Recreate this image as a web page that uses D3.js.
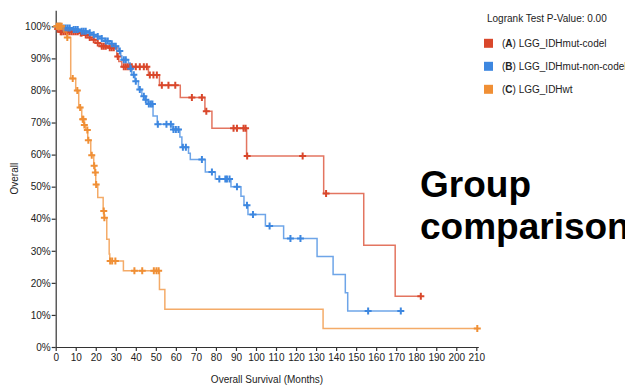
<!DOCTYPE html>
<html><head><meta charset="utf-8">
<script src="https://cdn.jsdelivr.net/npm/d3@7"></script>
<style>body{margin:0;background:#fff;overflow:hidden} text{font-family:"Liberation Sans",Arial,Helvetica,sans-serif}</style>
</head><body><svg id="c" width="625" height="385"></svg>
<script>
// ---------- data ----------
const groupLetters = ["A", "B", "C"];
const groupNames = ["LGG_IDHmut-codel", "LGG_IDHmut-non-codel", "LGG_IDHwt"];
const pValueText = "Logrank Test P-Value: 0.00";
const xTicks = d3.range(0, 211, 10);
const yTicks = [0, 10, 20, 30, 40, 50, 60, 70, 80, 90, 100];

// [time (months), survival % after the step]
const stepsA = [[0,100],[0.5,99.2],[2,98.3],[12,97.9],[14,97.3],[16,96.5],[18,95.8],[20,94.8],[22,93.8],[26,93.3],[30.5,90.6],[31.5,89],[33,87.4],[46.3,84.8],[51.8,81.6],[62.2,77.8],[74.5,73.5],[78,68.2],[95.3,59.6],[133.8,47.9],[153.8,31.7],[169.5,15.8]];
const endA = 182.3;
const censorA = [1,2.5,3,4,5,6,7,8,9,10,11,12.5,13,15,17,19,21,23,24,25,27,28,29,31,34,35,36,37,38,40,42,44,45.5,47,48.8,50.5,53,56.3,59.7,68,73,75.2,88.8,90.5,93.8,94.8,95.6,123.3,135,182.3];

const stepsB = [[0,100],[3,99.5],[8,99],[12,98.5],[16,98],[18,97.4],[20,96.8],[22,96.2],[24.6,95.4],[27,94.6],[29.6,93.8],[31.3,92.3],[32.5,90.8],[33,89.6],[36.3,88.6],[37.2,86.8],[38,84.9],[39.6,82.9],[41.3,80.3],[43,78.2],[44.7,77.1],[46,75.8],[48.6,72],[50.7,69.5],[58.5,67.8],[62,65.5],[63,62.3],[66.3,60.4],[67.2,58.5],[74.7,54.6],[79.7,52.4],[87.5,50],[92.5,47],[94,44.2],[96,41.3],[104.7,37.7],[113.8,33.8],[130.5,28.2],[138.5,22.6],[144.6,16.9],[145.8,11.2]];
const endB = 172.3;
const censorB = [1,2,4,5,6,7,9,10,11,13,14,15,17,19,21,23,25,26,28,30,32,34,35,37.5,39,40,42,44,45,46.5,47.5,48.3,51,55.3,57.5,58.8,60,61.3,63.5,65,73,78,81.7,84.7,85.5,86.8,90.5,95.5,98.5,106.8,117.2,122.2,156,172.3];

const stepsC = [[0,100],[4,98.2],[5.5,96.5],[7.5,83.7],[10,80],[11.5,74.7],[13,71],[14,69.2],[15,67.7],[16,64.5],[17.5,59.8],[19,56.5],[19.6,54.4],[20,50.7],[21,46.6],[23.7,42.4],[24.2,40.3],[25.5,33.6],[26.7,29],[27,26.8],[33.8,23.8],[51.8,17.9],[54.5,11.8],[133.5,5.8]];
const endC = 210.5;
const censorC = [0.5,1,1.5,2,2.5,3,5.8,8.5,10.8,12.2,13.5,13.8,14.3,15.8,16.3,18,19.2,19.8,20.2,24,24.3,27.2,28.2,29.8,39.3,43.2,49,50.3,51.4,210.5];

const seriesColors = ["#d9472b", "#3d87e0", "#f08f35"];

// ---------- chart ----------
const svg = d3.select("#c");
const x = d3.scaleLinear().domain([0, 211]).range([55.7, 478.3]);
const y = d3.scaleLinear().domain([0, 105]).range([347, 10.3]);

const series = [
  {steps: stepsA, end: endA, censor: censorA, color: seriesColors[0]},
  {steps: stepsB, end: endB, censor: censorB, color: seriesColors[1]},
  {steps: stepsC, end: endC, censor: censorC, color: seriesColors[2]}
];

// axes
const gx = svg.append("g").attr("transform", `translate(0,${y(0)})`)
  .call(d3.axisBottom(x).tickValues(xTicks).tickSize(4).tickSizeOuter(0).tickFormat(d3.format("d")));
const gy = svg.append("g").attr("transform", `translate(${x(0)},0)`)
  .call(d3.axisLeft(y).tickValues(yTicks).tickSize(4).tickSizeOuter(0).tickFormat(d => d + "%"));
[gx, gy].forEach(g => {
  g.selectAll("path,line").attr("stroke", "#333").attr("stroke-width", 1.2);
  g.selectAll("text").attr("fill", "#222").style("font-size", "10px");
});
gx.selectAll("text").attr("dy", "0.75em").attr("y", 6);
gy.selectAll("text").attr("x", -5);

svg.append("text").attr("x", (x(0) + x(211)) / 2).attr("y", 383).attr("text-anchor", "middle")
  .style("font-size", "10px").attr("fill", "#222").text("Overall Survival (Months)");
svg.append("text").attr("transform", `translate(18,${(y(0) + y(105)) / 2}) rotate(-90)`).attr("text-anchor", "middle")
  .style("font-size", "10px").attr("fill", "#222").text("Overall");

// curves
const line = d3.line().x(d => x(d[0])).y(d => y(d[1])).curve(d3.curveStepAfter);
series.forEach(s => {
  const pts = s.steps.concat([[s.end, s.steps[s.steps.length - 1][1]]]);
  const times = s.steps.map(d => d[0]);
  const g = svg.append("g");
  g.append("path").attr("d", line(pts)).attr("fill", "none")
    .attr("stroke", s.color).attr("stroke-opacity", 0.75).attr("stroke-width", 1.5);
  const surv = t => s.steps[Math.max(0, d3.bisectRight(times, t) - 1)][1];
  const cs = 3.5;
  g.selectAll("path.cen").data(s.censor).join("path").attr("class", "cen")
    .attr("d", t => {
      const cx = x(t), cy = y(surv(t));
      return `M${cx - cs},${cy}H${cx + cs}M${cx},${cy - cs}V${cy + cs}`;
    })
    .attr("stroke", s.color).attr("stroke-width", 2).attr("fill", "none");
});

// legend
svg.append("text").attr("x", 487).attr("y", 22).style("font-size", "10px").attr("fill", "#222").text(pValueText);
const lg = svg.append("g");
groupNames.forEach((name, i) => {
  const cy = 43.3 + i * 23;
  lg.append("rect").attr("x", 484).attr("y", cy - 4.5).attr("width", 9).attr("height", 9).attr("fill", seriesColors[i]);
  const t = lg.append("text").attr("x", 502).attr("y", cy + 3.5).style("font-size", "10px").attr("fill", "#222");
  t.append("tspan").text("(");
  t.append("tspan").style("font-weight", "bold").text(groupLetters[i]);
  t.append("tspan").text(") " + name);
});

// title
const title = svg.append("text").attr("x", 420).style("font-size", "37px").style("font-weight", "bold").attr("fill", "#000");
title.append("tspan").attr("x", 420).attr("y", 197).text("Group");
title.append("tspan").attr("x", 420).attr("y", 239).text("comparison");
</script></body></html>
